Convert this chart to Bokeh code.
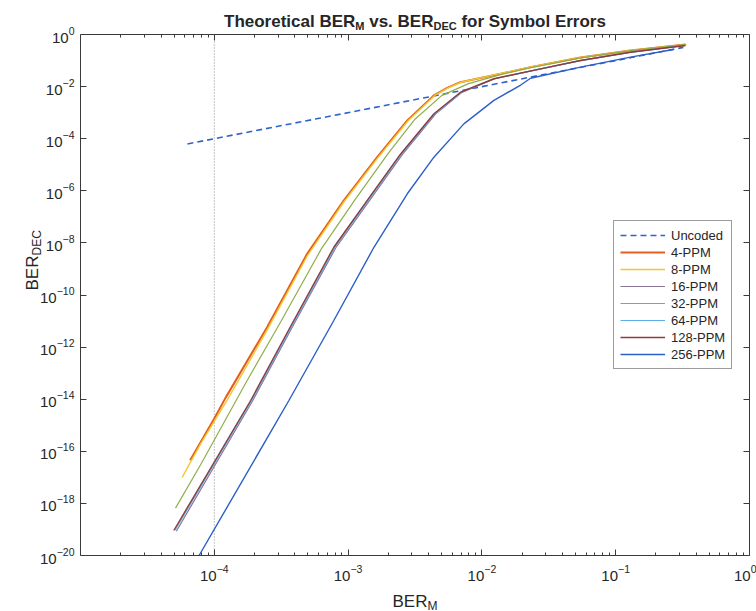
import math
from bokeh.plotting import figure
from bokeh.models import (Label, FixedTicker, LogAxis, Legend, LegendItem,
                          CustomJSTickFormatter, Range1d)
from bokeh.embed import file_html
from bokeh.resources import INLINE

# ---------------- data ----------------
x_unc = [6.3e-5, 0.32]
y_unc = [6.3e-5, 0.32]

x_ref = [1e-4, 1e-4]          # dotted reference line at BER_M = 1e-4
y_ref = [1e-20, 1e0]

x_4 = [6.6e-5, 1.0e-4, 1.21e-4, 2.48e-4, 4.94e-4, 9.3e-4, 1.65e-3, 2.77e-3, 4.38e-3,
       5.5e-3, 6.9e-3, 1.38e-2, 2.31e-2, 5.46e-2, 0.129, 0.333]
y_4 = [4.5e-17, 1.8e-15, 1.1e-14, 5.8e-12, 3.8e-9, 4.3e-7, 1.95e-5, 5.0e-4, 4.6e-3,
       8.9e-3, 1.48e-2, 3.1e-2, 5.6e-2, 0.131, 0.243, 0.413]

x_8 = [5.75e-5, 7.94e-5, 1.26e-4, 2.51e-4, 5.01e-4, 9.33e-4, 1.66e-3, 2.82e-3, 4.47e-3,
       5.6e-3, 7.08e-3, 1.38e-2, 2.29e-2, 5.5e-2, 0.129, 0.339]
y_8 = [1.0e-17, 2.0e-16, 1.0e-14, 5.0e-12, 3.5e-9, 3.8e-7, 1.8e-5, 5.0e-4, 4.7e-3,
       9.0e-3, 1.5e-2, 3.2e-2, 5.6e-2, 0.132, 0.245, 0.417]

x_16 = [5.2e-5, 1.93e-4, 3.84e-4, 8.1e-4, 1.44e-3, 2.55e-3, 4.5e-3, 7.1e-3, 1.25e-2,
        2.76e-2, 5.5e-2, 0.13, 0.333]
y_16 = [8.5e-20, 8.5e-15, 6.0e-12, 6.5e-9, 4.1e-7, 2.5e-5, 8.8e-4, 6.0e-3, 2.0e-2,
        4.8e-2, 0.101, 0.21, 0.382]

x_32 = [5.13e-5, 7.94e-5, 1.76e-4, 3.16e-4, 6.31e-4, 1.12e-3, 2.0e-3, 3.16e-3, 5.0e-3,
        7.94e-3, 1.38e-2, 2.29e-2, 5.5e-2, 0.129, 0.331]
y_32 = [6.6e-19, 3.2e-17, 5.2e-14, 1.0e-11, 5.9e-9, 4.4e-7, 2.8e-5, 5.6e-4, 4.5e-3,
        1.3e-2, 2.9e-2, 5.2e-2, 0.126, 0.24, 0.407]

x_64 = [5.1e-5, 1.9e-4, 3.78e-4, 7.95e-4, 1.41e-3, 2.5e-3, 4.44e-3, 7.0e-3, 1.24e-2,
        2.75e-2, 5.48e-2, 0.13, 0.332]
y_64 = [9.5e-20, 9.0e-15, 6.2e-12, 6.7e-9, 4.2e-7, 2.55e-5, 8.9e-4, 6.05e-3, 2.0e-2,
        4.8e-2, 0.1, 0.21, 0.381]

x_128 = [4.98e-5, 1.87e-4, 3.72e-4, 7.82e-4, 1.39e-3, 2.47e-3, 4.38e-3, 6.92e-3, 1.23e-2,
         2.74e-2, 5.46e-2, 0.129, 0.331]
y_128 = [9.1e-20, 8.9e-15, 6.3e-12, 6.8e-9, 4.3e-7, 2.6e-5, 9.1e-4, 6.1e-3, 2.0e-2,
         4.8e-2, 0.10, 0.209, 0.38]

x_256 = [7.7e-5, 3.61e-4, 7.82e-4, 1.56e-3, 2.77e-3, 4.38e-3, 7.33e-3, 1.23e-2, 1.95e-2,
         2.31e-2, 5.46e-2, 0.129, 0.27]
y_256 = [1.0e-20, 8.9e-15, 1.05e-11, 6.8e-9, 7.7e-7, 1.95e-5, 3.7e-4, 2.95e-3, 1.15e-2,
         2.1e-2, 5.6e-2, 0.135, 0.265]

series_names = ["4-PPM", "8-PPM", "16-PPM", "32-PPM", "64-PPM", "128-PPM", "256-PPM"]
series_x = [x_4, x_8, x_16, x_32, x_64, x_128, x_256]
series_y = [y_4, y_8, y_16, y_32, y_64, y_128, y_256]
series_colors = ["#E2601C", "#F2C830", "#8C7696", "#8FAE4A", "#5DAEE6", "#8E3B3B", "#2C5FCA"]
series_widths = [2.0, 1.4, 1.2, 1.2, 1.2, 1.4, 1.4]
unc_color = "#2F63CC"

x_major = [1e-4, 1e-3, 1e-2, 1e-1, 1e0]
x_decades = [1e-5, 1e-4, 1e-3, 1e-2, 1e-1]
y_major = [1e-20, 1e-18, 1e-16, 1e-14, 1e-12, 1e-10, 1e-8, 1e-6, 1e-4, 1e-2, 1e0]

# ---------------- layout constants ----------------
W, H = 756, 611
L, R, T, B = 80, 749, 34, 555          # pixel box of the axes
FONT = "Liberation Sans"
TXT = "#262626"
AX = "#3a3a3a"
X0, X1, Y0, Y1 = 1e-5, 1e0, 1e-20, 1e0

# the frame covers the whole canvas; the ranges are widened so that the
# axes box [X0, X1] x [Y0, Y1] lands on the pixel box above
dx = (math.log10(X1) - math.log10(X0)) / (R - L)
dy = (math.log10(Y1) - math.log10(Y0)) / (B - T)
xr = Range1d(10 ** (math.log10(X0) - L * dx), 10 ** (math.log10(X1) + (W - R) * dx))
yr = Range1d(10 ** (math.log10(Y0) - (H - B) * dy), 10 ** (math.log10(Y1) + T * dy))

p = figure(width=W, height=H, x_axis_type="log", y_axis_type="log",
           x_range=xr, y_range=yr,
           output_backend="svg", toolbar_location=None, title=None,
           min_border_left=0, min_border_right=0, min_border_top=0, min_border_bottom=0)
p.xgrid.visible = False
p.ygrid.visible = False
p.outline_line_color = None
p.background_fill_color = "white"
p.border_fill_color = "white"

x_minor = [m * d for d in x_decades for m in range(2, 10)]


def style_axis(ax, standoff):
    ax.axis_line_color = AX
    ax.major_tick_line_color = AX
    ax.minor_tick_line_color = AX
    ax.major_tick_in = 6
    ax.major_tick_out = 0
    ax.minor_tick_in = 3
    ax.minor_tick_out = 0
    ax.major_label_text_font = FONT
    ax.major_label_text_font_size = "15px"
    ax.major_label_text_color = TXT
    ax.major_label_standoff = standoff


xa = p.xaxis[0]
xa.ticker = FixedTicker(ticks=x_major, minor_ticks=x_minor)
xa.fixed_location = Y0
xa.bounds = (X0, X1)
style_axis(xa, 9)

ya = p.yaxis[0]
ya.ticker = FixedTicker(ticks=y_major, minor_ticks=[])
ya.fixed_location = X0
ya.bounds = (Y0, Y1)
style_axis(ya, 6)

blank = CustomJSTickFormatter(code="return ''")
top = LogAxis(ticker=FixedTicker(ticks=x_major, minor_ticks=x_minor), formatter=blank,
              fixed_location=Y1, bounds=(X0, X1))
style_axis(top, 0)
p.add_layout(top, "above")
right = LogAxis(ticker=FixedTicker(ticks=y_major, minor_ticks=[]), formatter=blank,
                fixed_location=X1, bounds=(Y0, Y1))
style_axis(right, 0)
p.add_layout(right, "right")

p.line(x_ref, y_ref, line_color="#8a8a8a", line_dash="1 2", line_width=1)

items = []
r_unc = p.line(x_unc, y_unc, line_color=unc_color, line_width=1.6, line_dash="6 4")
items.append(LegendItem(label="Uncoded", renderers=[r_unc]))
for name, xs, ys, c, w in zip(series_names, series_x, series_y, series_colors, series_widths):
    r = p.line(xs, ys, line_color=c, line_width=w)
    items.append(LegendItem(label=name, renderers=[r]))

leg = Legend(items=items, location=(613, H - 369), padding=6, spacing=1,
             glyph_width=45, glyph_height=16, label_height=16, label_standoff=6,
             label_text_font=FONT, label_text_font_size="13px", label_text_color=TXT,
             border_line_color=AX, border_line_width=1, background_fill_color="white",
             background_fill_alpha=1.0, margin=0)
p.add_layout(leg, "center")


def lab(text, X, Y, size, bold=False, angle=0.0):
    # anchored at the axes box's top-left corner (data units), shifted in pixels
    return Label(x=X0, y=Y1, x_offset=round(X - L, 1), y_offset=round(T - Y, 1), text=text,
                 text_font=FONT, text_font_size=f"{int(size)}px",
                 text_font_style="bold" if bold else "normal",
                 text_color=TXT, text_align="left", text_baseline="alphabetic",
                 angle=angle)


# Title: "Theoretical BER_M vs. BER_DEC for Symbol Errors"
# (text, size, baseline shift, advance in em; None = a plain space)
ts, ss = 17, 11
SP = 0.278
pieces = [("Theoretical BER", ts, 0, 7.724), ("M", ss, 4, 0.833), (None, ts, 0, SP),
          ("vs. BER", ts, 0, 3.779), ("DEC", ss, 4, 2.111), (None, ts, 0, SP),
          ("for Symbol Errors", ts, 0, 8.502)]
total = sum(s * w for _, s, _, w in pieces)
cx = (L + R) / 2 - total / 2
for txt, s, dyy, w in pieces:
    if txt is not None:
        p.add_layout(lab(txt, cx, 21 + dyy, s, bold=True))
    cx += s * w

# x label "BER_M"
ls, lss = 17, 12
xl_w = ls * 2.056 + lss * 0.833
sx0 = (L + R) / 2 - xl_w / 2
p.add_layout(lab("BER", sx0, 601, ls))
p.add_layout(lab("M", sx0 + ls * 2.056, 605, lss))

# y label "BER_DEC" (rotated, reading upwards), left of the tick labels
yb = 290
p.add_layout(lab("BER", 32, yb, ls, angle=math.pi / 2))
p.add_layout(lab("DEC", 36, yb - ls * 2.056, lss, angle=math.pi / 2))

open("out.html", "w").write(file_html(p, INLINE))
